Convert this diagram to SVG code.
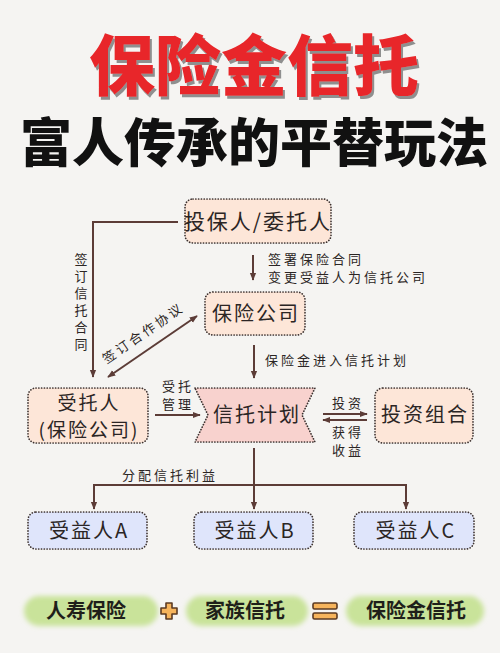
<svg xmlns="http://www.w3.org/2000/svg" width="500" height="653" viewBox="0 0 500 653">
<defs>
<style>
.t{font-family:"Noto Sans CJK SC","Noto Sans",sans-serif;fill:#2b2524}
.box{stroke:#3d3230;stroke-width:1.7;stroke-dasharray:0.1 2.7;stroke-linecap:round}
.peach{fill:#fde6d8}
.blue{fill:#dfe5fb}
.pink{fill:#f8d2ce}
.ln{stroke:#5c3c37;stroke-width:2;fill:none}
.lbl{font-size:13px;letter-spacing:3px}
.nd{font-size:20px;letter-spacing:2px}
.bt{font-size:20px;font-weight:700;fill:#1f1f1a}
.sym{fill:#f6b45c;stroke:#5b3a22;stroke-width:1.6;stroke-linejoin:round}
</style>
<marker id="ah" viewBox="0 0 10 10" refX="9" refY="5" markerWidth="8" markerHeight="8" markerUnits="userSpaceOnUse" orient="auto-start-reverse"><path d="M0,1 L10,5 L0,9 z" fill="#5c3c37"/></marker>
<filter id="soft" x="-10%" y="-30%" width="120%" height="160%"><feGaussianBlur stdDeviation="2.5"/></filter>
<filter id="shadow" x="-5%" y="-10%" width="110%" height="130%"><feDropShadow dx="2" dy="3" stdDeviation="0.6" flood-color="#8f8f8f"/></filter>
</defs>
<rect width="500" height="653" fill="#f5f4f2"/>

<g id="title">
<text x="254" y="90" text-anchor="middle" class="t" filter="url(#shadow)" style="font-size:66px;font-weight:900;fill:#e8262a">保险金信托</text>
<text x="254" y="162" text-anchor="middle" class="t" style="font-size:52px;font-weight:900;fill:#111">富人传承的平替玩法</text>
</g>

<g id="connectors">
<path class="ln" d="M178,222 H93 V377" marker-end="url(#ah)"/>
<path class="ln" d="M253,255 V280" marker-end="url(#ah)"/>
<path class="ln" d="M254,345 V378" marker-end="url(#ah)"/>
<path class="ln" d="M108,377 L197,316" marker-start="url(#ah)" marker-end="url(#ah)"/>
<path class="ln" d="M155,415 H200" marker-end="url(#ah)"/>
<path class="ln" d="M323,414 H367" marker-end="url(#ah)"/>
<path class="ln" d="M367,420 H323" marker-end="url(#ah)"/>
<path class="ln" d="M254,448 V509" marker-end="url(#ah)"/>
<path class="ln" d="M94,509 V485 H406 V509" marker-start="url(#ah)" marker-end="url(#ah)"/>
<g class="t lbl">
<text x="81" y="253" style="writing-mode:vertical-rl;letter-spacing:4px">签订信托合同</text>
<text x="268" y="264">签署保险合同<tspan x="268" dy="18">变更受益人为信托公司</tspan></text>
<text x="265" y="365">保险金进入信托计划</text>
<text transform="translate(146,337) rotate(-34.5)" text-anchor="middle">签订合作协议</text>
<text x="162" y="391">受托</text>
<text x="162" y="409">管理</text>
<text x="332" y="408">投资</text>
<text x="332" y="437">获得</text>
<text x="332" y="455">收益</text>
<text x="122" y="480">分配信托利益</text>
</g>
</g>

<g id="n-policyholder">
<rect x="185" y="199" width="146" height="44" rx="8" class="box peach"/>
<text x="258" y="229" text-anchor="middle" class="t nd" style="font-size:21px">投保人/委托人</text>
</g>
<g id="n-insurer">
<rect x="205" y="292" width="100" height="43" rx="8" class="box peach"/>
<text x="256" y="321" text-anchor="middle" class="t nd">保险公司</text>
</g>
<g id="n-trustee">
<rect x="28" y="388" width="120" height="55" rx="8" class="box peach"/>
<text x="89" y="410" text-anchor="middle" class="t nd" style="font-size:19px">受托人</text>
<text x="89" y="437" text-anchor="middle" class="t nd" style="font-size:19px">(保险公司)</text>
</g>
<g id="n-trustplan">
<path d="M195,388 H315 L302,415 L315,442 H195 L208,415 Z" class="box pink"/>
<text x="257" y="422" text-anchor="middle" class="t nd">信托计划</text>
</g>
<g id="n-portfolio">
<rect x="375" y="388" width="98" height="55" rx="8" class="box peach"/>
<text x="425" y="422" text-anchor="middle" class="t nd">投资组合</text>
</g>
<g id="n-benA">
<rect x="28" y="512" width="119" height="37" rx="8" class="box blue"/>
<text x="89" y="538" text-anchor="middle" class="t nd">受益人A</text>
</g>
<g id="n-benB">
<rect x="194" y="512" width="119" height="37" rx="8" class="box blue"/>
<text x="255" y="538" text-anchor="middle" class="t nd">受益人B</text>
</g>
<g id="n-benC">
<rect x="354" y="512" width="120" height="37" rx="8" class="box blue"/>
<text x="416" y="538" text-anchor="middle" class="t nd">受益人C</text>
</g>

<g id="formula">
<rect x="24" y="596" width="134" height="30" rx="15" fill="#c9e39a" filter="url(#soft)"/>
<rect x="186" y="596" width="122" height="30" rx="15" fill="#c9e39a" filter="url(#soft)"/>
<rect x="346" y="596" width="138" height="30" rx="15" fill="#c9e39a" filter="url(#soft)"/>
<text x="86" y="618" text-anchor="middle" class="t bt">人寿保险</text>
<text x="245" y="618" text-anchor="middle" class="t bt">家族信托</text>
<text x="416" y="618" text-anchor="middle" class="t bt">保险金信托</text>
<path class="sym" d="M166,603 h6 v5 h5 v6 h-5 v5 h-6 v-5 h-5 v-6 h5 z"/>
<rect x="313" y="603" width="24" height="6" rx="1.5" class="sym"/>
<rect x="313" y="613" width="24" height="6" rx="1.5" class="sym"/>
</g>
</svg>
